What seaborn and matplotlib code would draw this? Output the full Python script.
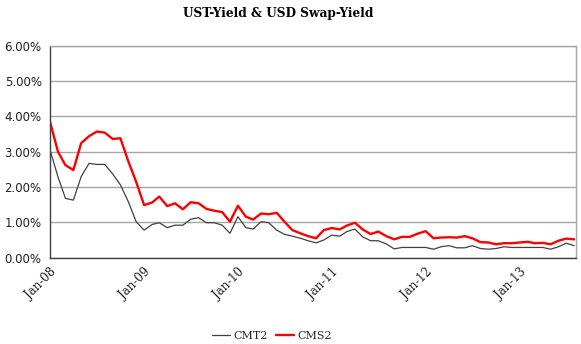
import numpy as np
import pandas as pd
import matplotlib
matplotlib.use("Agg")
import matplotlib.pyplot as plt
import matplotlib.dates as mdates
from matplotlib.ticker import PercentFormatter, FixedLocator
import seaborn as sns

# Monthly yields (%), Jan-2008 .. Aug-2013
start_month = "2008-01-01"
cmt2 = [3.05, 2.29, 1.68, 1.63, 2.29, 2.67, 2.64, 2.64, 2.37, 2.06, 1.58, 1.02,
        0.78, 0.94, 0.99, 0.85, 0.92, 0.92, 1.09, 1.13, 0.99, 0.99, 0.92, 0.69,
        1.16, 0.85, 0.81, 1.02, 0.99, 0.78, 0.66, 0.61, 0.55, 0.48, 0.42, 0.50,
        0.64, 0.61, 0.74, 0.81, 0.59, 0.48, 0.48, 0.39, 0.25, 0.29, 0.29, 0.29,
        0.29, 0.24, 0.31, 0.34, 0.28, 0.28, 0.34, 0.26, 0.24, 0.26, 0.31, 0.29,
        0.29, 0.29, 0.29, 0.29, 0.24, 0.31, 0.41, 0.34]
cms2 = [3.85, 3.00, 2.62, 2.48, 3.24, 3.44, 3.57, 3.54, 3.36, 3.38, 2.72, 2.15,
        1.49, 1.56, 1.73, 1.46, 1.54, 1.37, 1.57, 1.54, 1.38, 1.33, 1.29, 1.02,
        1.47, 1.16, 1.08, 1.25, 1.23, 1.27, 1.02, 0.78, 0.69, 0.61, 0.55, 0.78,
        0.84, 0.80, 0.91, 0.99, 0.80, 0.67, 0.74, 0.61, 0.52, 0.59, 0.59, 0.68,
        0.75, 0.55, 0.57, 0.58, 0.57, 0.61, 0.55, 0.44, 0.43, 0.38, 0.41, 0.41,
        0.43, 0.45, 0.41, 0.42, 0.38, 0.48, 0.54, 0.52]
series_names = ["CMT2", "CMS2"]
series_colors = ["#404040", "#ff0000"]
y_ticks = [0, 1, 2, 3, 4, 5, 6]
title = "UST-Yield & USD Swap-Yield"

dates = pd.date_range(start_month, periods=len(cmt2), freq="MS")
df = pd.concat([
    pd.DataFrame({"date": dates, "yield": cmt2, "series": series_names[0]}),
    pd.DataFrame({"date": dates, "yield": cms2, "series": series_names[1]}),
])

sns.set_theme(style="white")
plt.rcParams["font.family"] = ["DejaVu Sans"]

fig = plt.figure(figsize=(5.81, 3.44), dpi=100)
ax = fig.add_axes([50 / 581, 1 - 257.7 / 344, 526 / 581, 212 / 344])

sns.lineplot(data=df, x="date", y="yield", hue="series", hue_order=series_names,
             palette=dict(zip(series_names, series_colors)), ax=ax, legend=False)
ax.lines[0].set_linewidth(0.9)
ax.lines[1].set_linewidth(1.7)

ax.set_ylim(0, 6)
ax.set_xlim(pd.Timestamp("2008-01-01"), pd.Timestamp("2013-08-08"))
ax.yaxis.set_major_locator(FixedLocator(y_ticks))
ax.yaxis.set_major_formatter(PercentFormatter(decimals=2))
ax.xaxis.set_major_locator(mdates.YearLocator(month=1, day=1))
ax.xaxis.set_major_formatter(mdates.DateFormatter("%b-%y"))

ax.grid(axis="y", color="#a6a6a6", linewidth=1.0)
ax.set_axisbelow(True)
for side in ["top", "right"]:
    ax.spines[side].set_color("#a6a6a6")
    ax.spines[side].set_linewidth(1.0)
for side in ["left", "bottom"]:
    ax.spines[side].set_color("#404040")
    ax.spines[side].set_linewidth(1.0)

ax.tick_params(axis="y", which="major", direction="out", length=4, width=1,
               color="#404040", labelsize=8.5, labelcolor="#202020", pad=2)
ax.tick_params(axis="x", which="major", direction="out", length=4, width=1,
               color="#404040", pad=2)
for lbl in ax.get_xticklabels():
    lbl.set_rotation(45)
    lbl.set_ha("right")
    lbl.set_rotation_mode("anchor")
    lbl.set_family("DejaVu Serif")
    lbl.set_fontsize(8.5)
    lbl.set_color("#202020")

ax.set_xlabel("")
ax.set_ylabel("")

fig.text(0.478, 1 - 14 / 344, title, ha="center", va="center",
         family="DejaVu Serif", weight="bold", fontsize=8.7, color="black")

handles = [plt.Line2D([], [], color=c, lw=w) for c, w in zip(series_colors, [0.9, 1.7])]
fig.legend(handles, series_names, loc="center", bbox_to_anchor=(272 / 581, 1 - 336 / 344),
           ncol=2, frameon=False, handlelength=1.6, handletextpad=0.3, columnspacing=0.8,
           prop={"family": "DejaVu Serif", "size": 8})

fig.savefig("out.png", dpi=100)
